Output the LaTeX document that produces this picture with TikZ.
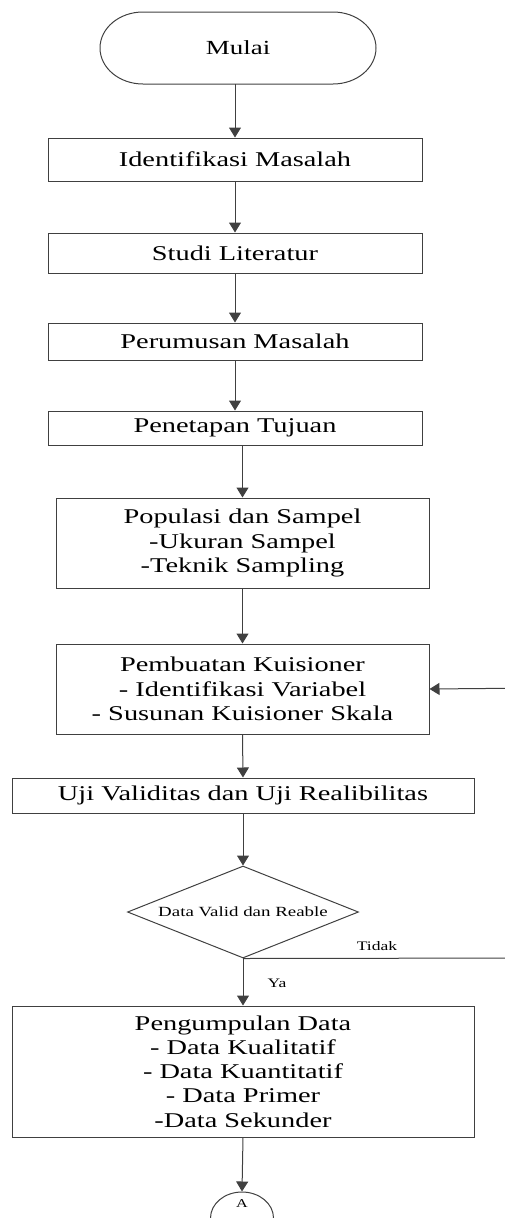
\documentclass[tikz,border=0pt]{standalone}
\usepackage{fontspec}
\setmainfont{Liberation Serif}[FakeStretch=1.35]
\usetikzlibrary{arrows.meta,shapes.geometric}
\definecolor{linec}{HTML}{404040}
\tikzset{
  x=1pt, y=-1pt,
  box/.style={draw=linec, line width=1pt, align=center, inner sep=0pt,
    font=\fontsize{21}{24.3}\selectfont},
  arr/.style={draw=linec, line width=1pt, -{Triangle[width=12pt,length=10pt]}},
  conn/.style={draw=linec, line width=1pt},
  small/.style={font=\fontsize{13}{15}\selectfont, inner sep=0pt}
}
\begin{document}
\begin{tikzpicture}
\useasboundingbox (0,0) rectangle (504,1218);
% terminal
\node[inner sep=0pt, minimum width=276pt, minimum height=72pt, font=\fontsize{20}{24}\selectfont] (mulai) at (238,48) {Mulai};
\draw[conn] (143,12) -- (333,12) arc[start angle=-90, end angle=90, x radius=43, y radius=36]
  -- (143,84) arc[start angle=90, end angle=270, x radius=43, y radius=36] -- cycle;
% boxes
\node[box, minimum width=374pt, minimum height=43pt] (id) at (235,159.5) {Identifikasi Masalah};
\node[box, minimum width=374pt, minimum height=40pt] (studi) at (235,253) {Studi Literatur};
\node[box, minimum width=374pt, minimum height=37pt] (rumus) at (235,341.5) {Perumusan Masalah};
\node[box, minimum width=374pt, minimum height=34pt] (tujuan) at (235,428) {Penetapan Tujuan};
\node[box, minimum width=373pt, minimum height=90pt] (pop) at (242.5,543) {Populasi dan Sampel\\-Ukuran Sampel\\-Teknik Sampling};
\node[box, minimum width=373pt, minimum height=90pt] (buat) at (242.5,689) {Pembuatan Kuisioner\\- Identifikasi Variabel\\- Susunan Kuisioner Skala};
\node[box, minimum width=462pt, minimum height=35pt] (uji) at (243,795.5) {Uji Validitas dan Uji Realibilitas};
\node[diamond, draw=linec, line width=1pt, inner sep=0pt, aspect=2.5, minimum width=231pt, minimum height=92pt, font=\fontsize{14}{16}\selectfont] (dec) at (243,912) {Data Valid dan Reable};
\node[box, minimum width=462pt, minimum height=131pt] (kumpul) at (243,1071.5) {Pengumpulan Data\\- Data Kualitatif\\- Data Kuantitatif\\- Data Primer\\-Data Sekunder};
\node[ellipse, draw=linec, line width=1pt, minimum width=63pt, minimum height=52pt, inner sep=0pt] (A) at (242,1218) {};
\node[small, font=\fontsize{12}{14}\selectfont] (Alabel) at (242,1204) {A};
% labels
\node[small] (tidak) at (377,946) {Tidak};
\node[small] (ya) at (277,983) {Ya};
\coordinate (r1) at (540,958);
\coordinate (r2) at (540,688);
% connectors
\draw[arr] (mulai.south -| id.north) -- (id.north);
\draw[arr] (id.south) -- (studi.north);
\draw[arr] (studi.south) -- (rumus.north);
\draw[arr] (rumus.south) -- (tujuan.north);
\draw[arr] (tujuan.south -| pop.north) -- (pop.north);
\draw[arr] (pop.south) -- (buat.north);
\draw[arr] (buat.south) -- (uji.north);
\draw[arr] (uji.south -| dec.north) -- (dec.north);
\draw[arr] (dec.south) -- (kumpul.north);
\draw[conn] (dec.south) -- (r1) -- (r2);
\draw[arr] (r2) -- (buat.east);
\draw[arr] (kumpul.south) -- (A.north);
\end{tikzpicture}
\end{document}
